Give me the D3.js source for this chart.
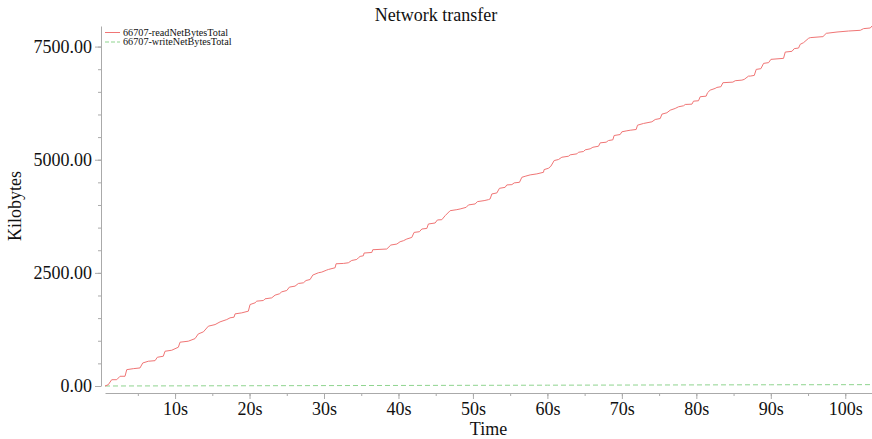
<!DOCTYPE html>
<html>
<head>
<meta charset="utf-8">
<script src="https://cdn.jsdelivr.net/npm/d3@7"></script>
<style>
  body { margin: 0; background: #fff; }
  text { font-family: "Liberation Serif", serif; fill: #111; }
  .axis path, .axis line { stroke: #aaa; }
  .axis text { font-size: 18px; fill: #111; }
</style>
</head>
<body>
<script>
// seconds / kilobytes
const readTime = [0.59,1.03,1.49,2.16,2.61,3.28,3.51,4.39,5.29,5.66,
  6.41,7.31,7.62,8.42,8.65,9.55,10.44,10.67,11.78,12.68,
  13.12,13.80,14.47,15.37,16.04,16.94,17.38,17.92,18.06,18.95,
  19.84,20.07,20.74,20.97,21.86,22.08,22.98,23.43,24.01,24.33,
  25.00,25.35,26.11,26.56,27.23,27.59,28.13,28.49,29.24,29.70,
  30.37,30.59,31.49,31.62,32.60,33.27,33.73,34.40,34.62,34.85,
  35.29,35.38,36.42,36.55,38.43,38.97,39.78,40.22,40.66,41.12,
  41.79,42.10,42.81,43.14,43.81,44.02,44.92,45.23,45.82,46.27,
  46.94,47.84,48.28,49.09,49.40,50.30,50.60,51.50,52.08,52.31,
  52.54,53.21,53.56,54.32,54.55,55.23,55.54,56.25,56.57,57.01,
  57.69,58.58,59.47,59.56,60.14,60.46,60.91,61.48,61.94,62.83,
  63.06,63.96,64.17,64.84,65.07,65.74,66.11,66.86,67.09,67.89,
  68.20,68.79,68.96,69.77,70.00,70.67,71.12,71.92,72.10,72.90,
  74.03,74.48,75.15,75.38,76.05,76.49,77.16,77.61,78.28,78.51,
  79.41,79.62,80.29,80.52,81.32,81.50,81.86,82.53,82.76,83.30,
  83.57,84.91,85.22,86.12,86.43,87.01,87.24,87.78,88.04,88.67,
  89.03,89.70,90.02,91.71,91.94,92.84,93.15,93.73,93.95,94.40,
  95.07,95.30,97.00,97.45,98.89,100.44,102.02,102.46,103.36,103.59];

const readKB = [0,29,139,139,215,215,361,383,399,509,
  547,560,635,658,768,790,857,968,990,1047,
  1151,1196,1322,1357,1417,1468,1506,1521,1594,1616,
  1654,1800,1838,1875,1889,1926,1948,2008,2037,2081,
  2110,2185,2207,2265,2280,2331,2353,2451,2502,2517,
  2562,2575,2613,2701,2708,2723,2774,2796,2834,2863,
  2878,2938,2951,3011,3027,3115,3137,3188,3210,3248,
  3283,3394,3409,3469,3482,3580,3602,3669,3675,3764,
  3874,3897,3912,3948,4001,4023,4074,4096,4118,4134,
  4244,4266,4368,4390,4443,4450,4488,4501,4612,4634,
  4665,4687,4722,4782,4811,4855,4982,5004,5055,5077,
  5108,5130,5165,5181,5218,5241,5276,5298,5373,5387,
  5424,5440,5535,5557,5617,5639,5652,5668,5763,5801,
  5838,5889,5911,6007,6038,6095,6133,6170,6192,6221,
  6228,6294,6303,6392,6405,6480,6538,6576,6598,6613,
  6702,6715,6746,6759,6775,6848,6848,6863,6996,7012,
  7129,7145,7218,7240,7379,7395,7455,7468,7550,7587,
  7683,7698,7720,7793,7822,7844,7860,7897,7911,7955];

const writeTime = [0.59,10,20,30,40,50,60,70,80,90,103.59];
const writeKB = [0,3,6,9,12,15,18,21,24,27,30];

const seriesNames = ["66707-readNetBytesTotal", "66707-writeNetBytesTotal"];
const yMajor = [0, 2500, 5000, 7500];
const yMinor = d3.range(0, 8000, 500);
const xMajor = [10, 20, 30, 40, 50, 60, 70, 80, 90, 100];
const xMinor = d3.range(5, 105, 5);

const WIDTH = 872, HEIGHT = 439;
const PLOT = { l: 105, r: 872, t: 26, b: 386 };

const svg = d3.select("body").append("svg")
  .attr("width", WIDTH)
  .attr("height", HEIGHT);

const readData = readTime.map((t, i) => ({ t, v: readKB[i] }));
const writeData = writeTime.map((t, i) => ({ t, v: writeKB[i] }));

const x = d3.scaleLinear().domain(d3.extent(readTime)).range([PLOT.l, PLOT.r]);
const y = d3.scaleLinear().domain([0, d3.max(readKB)]).range([PLOT.b, PLOT.t]);

// y axis (offset a few px left of the plot)
svg.append("g").attr("class", "axis")
  .attr("transform", `translate(${PLOT.l - 4},0)`)
  .call(d3.axisLeft(y).tickValues(yMinor).tickSize(3).tickSizeOuter(0).tickFormat(""));
svg.append("g").attr("class", "axis")
  .attr("transform", `translate(${PLOT.l - 4},0)`)
  .call(d3.axisLeft(y).tickValues(yMajor).tickSize(6).tickSizeOuter(0).tickFormat(d3.format(".2f")))
  .call(g => g.select(".domain").remove())
  .call(g => g.selectAll("line").attr("stroke", "#777"));

// x axis (offset below the plot)
svg.append("g").attr("class", "axis")
  .attr("transform", `translate(0,${PLOT.b + 7})`)
  .call(d3.axisBottom(x).tickValues(xMinor).tickSize(3).tickSizeOuter(0).tickFormat(""));
svg.append("g").attr("class", "axis")
  .attr("transform", `translate(0,${PLOT.b + 7})`)
  .call(d3.axisBottom(x).tickValues(xMajor).tickSize(6).tickSizeOuter(0).tickFormat(d => d + "s"))
  .call(g => g.select(".domain").remove())
  .call(g => g.selectAll("line").attr("stroke", "#777"));

const line = d3.line().x(d => x(d.t)).y(d => y(d.v));

svg.append("path")
  .datum(writeData)
  .attr("fill", "none")
  .attr("stroke", "#8fd48f")
  .attr("stroke-dasharray", "5,3")
  .attr("d", line);

svg.append("path")
  .datum(readData)
  .attr("fill", "none")
  .attr("stroke", "#f07575")
  .attr("d", line);

// titles
svg.append("text")
  .attr("x", WIDTH / 2).attr("y", 21)
  .attr("text-anchor", "middle")
  .style("font-size", "18px")
  .text("Network transfer");

svg.append("text")
  .attr("x", (PLOT.l + PLOT.r) / 2).attr("y", 435)
  .attr("text-anchor", "middle")
  .style("font-size", "18px")
  .text("Time");

svg.append("text")
  .attr("transform", `translate(21,${(PLOT.t + PLOT.b) / 2}) rotate(-90)`)
  .attr("text-anchor", "middle")
  .style("font-size", "18px")
  .text("Kilobytes");

// legend
const legend = svg.append("g").attr("transform", "translate(105,32.5)");
const styles = [{ c: "#f07575", dash: null }, { c: "#8fd48f", dash: "4,2" }];
seriesNames.forEach((name, i) => {
  const row = legend.append("g").attr("transform", `translate(0,${i * 9.5})`);
  row.append("line")
    .attr("x1", 0).attr("x2", 15)
    .attr("stroke", styles[i].c)
    .attr("stroke-dasharray", styles[i].dash);
  row.append("text")
    .attr("x", 18).attr("dy", "0.32em")
    .style("font-size", "10.2px")
    .text(name);
});
</script>
</body>
</html>
